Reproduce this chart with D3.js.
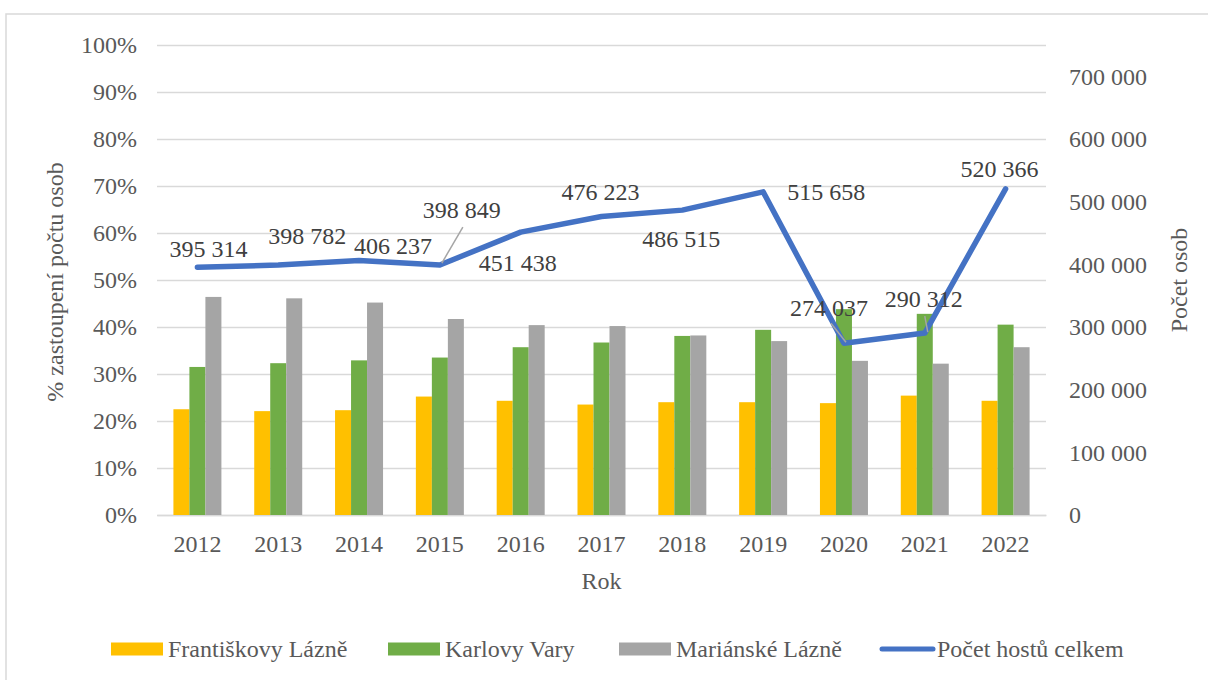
<!DOCTYPE html>
<html>
<head>
<meta charset="utf-8">
<script src="https://cdn.jsdelivr.net/npm/d3@7"></script>
<style>
  body { margin: 0; background: #fff; }
</style>
</head>
<body>
<svg id="chart" width="1208" height="680"></svg>
<script>
"use strict";

// data
var years = ["2012","2013","2014","2015","2016","2017","2018","2019","2020","2021","2022"];
var frantiskovy = [22.5, 22.1, 22.3, 25.2, 24.3, 23.5, 24.0, 24.0, 23.8, 25.4, 24.3];
var karlovy = [31.5, 32.3, 32.9, 33.5, 35.7, 36.7, 38.1, 39.4, 43.8, 42.8, 40.5];
var marianske = [46.4, 46.1, 45.2, 41.7, 40.4, 40.2, 38.2, 37.0, 32.8, 32.2, 35.7];
var hoste = [395314, 398782, 406237, 398849, 451438, 476223, 486515, 515658, 274037, 290312, 520366];
var leftTicks = [0, 10, 20, 30, 40, 50, 60, 70, 80, 90, 100];
var rightTicks = [0, 100000, 200000, 300000, 400000, 500000, 600000, 700000];
var seriesNames = ["Františkovy Lázně", "Karlovy Vary", "Mariánské Lázně", "Počet hostů celkem"];

// label offsets relative to point (dx, dy) for the line data labels
var labelPos = [[11,-19],[29,-29],[34,-15],[22,-55],[-3,31],[-1,-25],[-1,28],[63,0],[-15,-36],[-1,-34],[-6,-20]];

var colors = ["#ffc000", "#70ad47", "#a5a5a5"];
var lineColor = "#4472c4";
var FONT = "'Liberation Serif', 'Times New Roman', Tinos, serif";

var svg = d3.select("#chart");
var margin = {top: 45, left: 157, right: 162, bottom: 165},
  width = 1208 - margin.left - margin.right,
  height = 680 - margin.top - margin.bottom;

svg.append("rect")
  .attr("x", 6).attr("y", 14)
  .attr("width", 1230).attr("height", 700)
  .attr("fill", "none").attr("stroke", "#d9d9d9").attr("stroke-width", 1.5);

var g = svg.append("g").attr("transform", "translate(" + margin.left + "," + margin.top + ")");

var x = d3.scaleBand().domain(years).range([0, width]).paddingInner(0).paddingOuter(0);
var y = d3.scaleLinear().domain([0, 100]).range([height, 0]);
var y2 = d3.scaleLinear().domain([0, 750000]).range([height, 0]);
var fmt = function(v) { return d3.format(",")(v).replace(/,/g, " "); };

// grid
g.append("g")
  .call(d3.axisLeft(y).tickValues(leftTicks).tickSize(-width).tickFormat(""))
  .call(function(s) {
    s.select(".domain").remove();
    s.selectAll("line").attr("stroke", "#d9d9d9").attr("stroke-width", 1.5);
  });

// left axis labels
g.append("g")
  .call(d3.axisLeft(y).tickValues(leftTicks).tickSize(0).tickPadding(20).tickFormat(function(d) { return d + "%"; }))
  .call(function(s) {
    s.select(".domain").remove();
    s.selectAll("text").attr("fill", "#595959").style("font-size", "24px").attr("dy", "0.32em");
  });

// right axis labels
g.append("g")
  .attr("transform", "translate(" + width + ",0)")
  .call(d3.axisRight(y2).tickValues(rightTicks).tickSize(0).tickPadding(23).tickFormat(fmt))
  .call(function(s) {
    s.select(".domain").remove();
    s.selectAll("text").attr("fill", "#595959").style("font-size", "24px").attr("dy", "0.32em");
  });

// x axis
g.append("g")
  .attr("transform", "translate(0," + height + ")")
  .call(d3.axisBottom(x).tickSize(0).tickPadding(20))
  .call(function(s) {
    s.select(".domain").attr("stroke", "#d9d9d9").attr("stroke-width", 1.5);
    s.selectAll("text").attr("fill", "#595959").style("font-size", "24px");
  });

// bars
var barW = 16;
var series = [frantiskovy, karlovy, marianske];
series.forEach(function(vals, si) {
  g.append("g").selectAll("rect")
    .data(vals)
    .enter().append("rect")
    .attr("x", function(d, i) { return x(years[i]) + x.bandwidth() / 2 - 1.5 * barW + si * barW; })
    .attr("y", function(d) { return y(d); })
    .attr("width", barW)
    .attr("height", function(d) { return height - y(d); })
    .attr("fill", colors[si]);
});

// line
var line = d3.line()
  .x(function(d, i) { return x(years[i]) + x.bandwidth() / 2; })
  .y(function(d) { return y2(d); });

g.append("path")
  .datum(hoste)
  .attr("d", line)
  .attr("fill", "none")
  .attr("stroke", lineColor)
  .attr("stroke-width", 5.5)
  .attr("stroke-linejoin", "round")
  .attr("stroke-linecap", "round");

// leader lines [index, x1, y1, x2, y2] relative to the point
var leaders = [[3, 2, -2, 23, -38], [8, -13, -20, 2, -1], [9, 0, -17, 3, -1]];
leaders.forEach(function(l) {
  var px = x(years[l[0]]) + x.bandwidth() / 2, py = y2(hoste[l[0]]);
  g.append("line")
    .attr("x1", px + l[1]).attr("y1", py + l[2])
    .attr("x2", px + l[3]).attr("y2", py + l[4])
    .attr("stroke", "#a5a5a5").attr("stroke-width", 1.5);
});

// data labels
g.append("g").selectAll("text")
  .data(hoste)
  .enter().append("text")
  .attr("x", function(d, i) { return x(years[i]) + x.bandwidth() / 2 + labelPos[i][0]; })
  .attr("y", function(d, i) { return y2(d) + labelPos[i][1]; })
  .attr("text-anchor", "middle")
  .attr("dy", "0.35em")
  .attr("fill", "#404040")
  .style("font-size", "24px")
  .text(fmt);

// axis titles
svg.append("text")
  .attr("transform", "translate(63,282) rotate(-90)")
  .attr("text-anchor", "middle")
  .attr("fill", "#595959")
  .style("font-size", "24px")
  .text("% zastoupení počtu osob");

svg.append("text")
  .attr("transform", "translate(1187,280) rotate(-90)")
  .attr("text-anchor", "middle")
  .attr("fill", "#595959")
  .style("font-size", "24px")
  .text("Počet osob");

svg.append("text")
  .attr("x", margin.left + width / 2)
  .attr("y", 589)
  .attr("text-anchor", "middle")
  .attr("fill", "#595959")
  .style("font-size", "24px")
  .text("Rok");

// legend
var legendX = [111, 388, 619, 880];
var legend = svg.append("g").selectAll("g")
  .data(seriesNames)
  .enter().append("g")
  .attr("transform", function(d, i) { return "translate(" + legendX[i] + ",649)"; });

legend.each(function(d, i) {
  var s = d3.select(this);
  if (i < 3) {
    s.append("rect").attr("x", 0).attr("y", -6.5).attr("width", 52).attr("height", 13).attr("fill", colors[i]);
  } else {
    s.append("line").attr("x1", 2).attr("x2", 53).attr("y1", 0).attr("y2", 0)
      .attr("stroke", lineColor).attr("stroke-width", 5).attr("stroke-linecap", "round");
  }
  s.append("text")
    .attr("x", 57).attr("y", 0).attr("dy", "0.32em")
    .attr("fill", "#595959")
    .style("font-size", "24px")
    .text(d);
});

// one serif face for every text
svg.selectAll("text").style("font-family", FONT);
</script>
</body>
</html>
